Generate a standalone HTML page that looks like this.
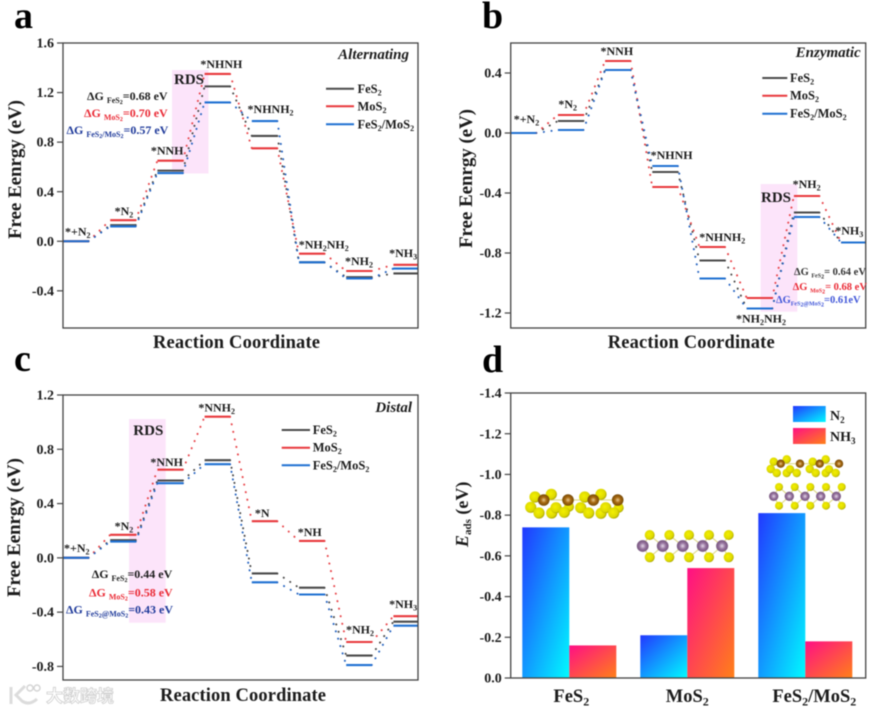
<!DOCTYPE html>
<html lang="en">
<head>
<meta charset="utf-8">
<title>Free energy diagrams and adsorption energies</title>
<style>
html,body{margin:0;padding:0;background:#fff;width:875px;height:711px;overflow:hidden}
svg{display:block;filter:blur(0.4px)}
text{font-family:"Liberation Serif","Noto Serif CJK SC",serif;font-weight:bold;fill:#1c1c1c}
.letter{font-size:38px;fill:#000}
.xt{font-size:18.5px}
.yt{font-size:19px}
.tit{font-size:15px;font-style:italic;text-anchor:end}
.leg{font-size:12.5px}
.rds{font-size:15px;text-anchor:middle}
.d1{font-size:12px}
.d2{font-size:10.5px}
.red{fill:#ea2a35}
.navy{fill:#1f3a9a}
.blue2{fill:#3f55d8}
.gray2{fill:#333}
.s{font-size:8px}
.ss{font-size:6px}
.pink{fill:#fce4fa}
.spine{fill:none;stroke:#444;stroke-width:1.3}
.ll{stroke-width:2}
.fe{stroke:#4a4a4a}
.mo{stroke:#e8383c}
.he{stroke:#1f70d2}
.atom-s{fill:url(#grad-s)}
.atom-fe{fill:url(#grad-fe)}
.atom-mo{fill:url(#grad-mo)}
.bond{stroke:#e0dc90;stroke-width:1.2}
.wm{font-family:"Noto Sans CJK SC","WenQuanYi Zen Hei",sans-serif;font-size:17px;font-weight:bold;fill:#fff;stroke:#cfcfcf;stroke-width:.8}
</style>
</head>
<body>
<svg id="figure" xmlns="http://www.w3.org/2000/svg" width="875" height="711" viewBox="0 0 875 711">
<defs>
<linearGradient id="grad-n2" x1="0" y1="0" x2="1" y2="1"><stop offset="0" stop-color="#2238ff"/><stop offset="1" stop-color="#00fbff"/></linearGradient>
<linearGradient id="grad-nh3" x1="0" y1="0" x2="1" y2="1"><stop offset="0" stop-color="#ff0f85"/><stop offset="1" stop-color="#ff8018"/></linearGradient>
<radialGradient id="grad-s" cx=".42" cy=".42" r=".62"><stop offset="0" stop-color="#f4f000"/><stop offset=".72" stop-color="#dcd800"/><stop offset="1" stop-color="#a09a00"/></radialGradient>
<radialGradient id="grad-fe" cx=".5" cy=".5" r=".55"><stop offset="0" stop-color="#e8c890"/><stop offset=".45" stop-color="#a8690f"/><stop offset="1" stop-color="#6c4408"/></radialGradient>
<radialGradient id="grad-mo" cx=".5" cy=".5" r=".55"><stop offset="0" stop-color="#e4d8e8"/><stop offset=".5" stop-color="#94709c"/><stop offset="1" stop-color="#6f5076"/></radialGradient>
</defs>

<!-- Panel letters -->
<text class="letter" x="14" y="28">a</text>
<text class="letter" x="482" y="28">b</text>
<text class="letter" x="14" y="371">c</text>
<text class="letter" x="482" y="372">d</text>

<!-- Panel a -->
<g>
<rect class="pink" x="172" y="70" width="36.5" height="103.5"/>
<g id="marks-a"></g>
<rect class="spine" x="63" y="43" width="355" height="285"/>
<g id="axis-a"></g>
<g id="labels-a"></g>
<text class="rds" x="189" y="84">RDS</text>
<text class="tit" x="409" y="59">Alternating</text>
<text class="d1" x="87" y="100">ΔG <tspan class="s" dy="3">FeS</tspan><tspan class="ss" dy="1">2</tspan><tspan dy="-4">=0.68 eV</tspan></text>
<text class="d1 red" x="84" y="117">ΔG <tspan class="s red" dy="3">MoS</tspan><tspan class="ss red" dy="1">2</tspan><tspan class="red" dy="-4">=0.70 eV</tspan></text>
<text class="d1 navy" x="66.5" y="134">ΔG <tspan class="s navy" dy="3">FeS</tspan><tspan class="ss navy" dy="1">2</tspan><tspan class="s navy" dy="-1">/MoS</tspan><tspan class="ss navy" dy="1">2</tspan><tspan class="navy" dy="-4">=0.57 eV</tspan></text>
<g>
<line class="ll fe" x1="326" x2="354" y1="88.7" y2="88.7"/>
<line class="ll mo" x1="326" x2="354" y1="106.3" y2="106.3"/>
<line class="ll he" x1="326" x2="354" y1="124.3" y2="124.3"/>
<text class="leg" x="357.5" y="93">FeS<tspan class="s" dy="2.5">2</tspan></text>
<text class="leg" x="357.5" y="110.3">MoS<tspan class="s" dy="2.5">2</tspan></text>
<text class="leg" x="357.5" y="128.3">FeS<tspan class="s" dy="2.5">2</tspan><tspan dy="-2.5">/MoS</tspan><tspan class="s" dy="2.5">2</tspan></text>
</g>
<text class="xt" x="153" y="348" textLength="167">Reaction Coordinate</text>
<text class="yt" transform="translate(21,239) rotate(-90)" textLength="139">Free Eenrgy (eV)</text>
</g>

<!-- Panel b -->
<g>
<rect class="pink" x="760.7" y="184" width="36.6" height="127.7"/>
<g id="marks-b"></g>
<rect class="spine" x="510.7" y="43" width="355" height="285"/>
<g id="axis-b"></g>
<g id="labels-b"></g>
<text class="rds" x="776" y="202">RDS</text>
<text class="tit" x="860.7" y="57">Enzymatic</text>
<text class="d2 gray2" x="794" y="275">ΔG <tspan class="ss gray2" dy="2.5">FeS</tspan><tspan class="ss gray2" dy="1">2</tspan><tspan class="gray2" dy="-3.5">= 0.64 eV</tspan></text>
<text class="d2 red" x="792.7" y="290">ΔG <tspan class="ss red" dy="2.5">MoS</tspan><tspan class="ss red" dy="1">2</tspan><tspan class="red" dy="-3.5">= 0.68 eV</tspan></text>
<text class="d2 blue2" x="776" y="303">ΔG<tspan class="ss blue2" dy="2.5">FeS</tspan><tspan class="ss blue2" dy="1">2</tspan><tspan class="ss blue2" dy="-1">@MoS</tspan><tspan class="ss blue2" dy="1">2</tspan><tspan class="blue2" dy="-3.5">=0.61eV</tspan></text>
<g>
<line class="ll fe" x1="762.3" x2="787.3" y1="78" y2="78"/>
<line class="ll mo" x1="762.3" x2="787.3" y1="95.7" y2="95.7"/>
<line class="ll he" x1="762.3" x2="787.3" y1="113.7" y2="113.7"/>
<text class="leg" x="790" y="82">FeS<tspan class="s" dy="2.5">2</tspan></text>
<text class="leg" x="790" y="99.7">MoS<tspan class="s" dy="2.5">2</tspan></text>
<text class="leg" x="790" y="117.7">FeS<tspan class="s" dy="2.5">2</tspan><tspan dy="-2.5">/MoS</tspan><tspan class="s" dy="2.5">2</tspan></text>
</g>
<text class="xt" x="607.7" y="348" textLength="167">Reaction Coordinate</text>
<text class="yt" transform="translate(472,248) rotate(-90)" textLength="139">Free Eenrgy (eV)</text>
</g>

<!-- Panel c -->
<g>
<rect class="pink" x="129" y="419" width="36.7" height="203.7"/>
<g id="marks-c"></g>
<rect class="spine" x="63" y="395" width="355" height="285"/>
<g id="axis-c"></g>
<g id="labels-c"></g>
<text class="rds" x="148.3" y="435">RDS</text>
<text class="tit" x="412" y="412">Distal</text>
<text class="d1" x="91.7" y="578">ΔG <tspan class="s" dy="3">FeS</tspan><tspan class="ss" dy="1">2</tspan><tspan dy="-4">=0.44 eV</tspan></text>
<text class="d1 red" x="89" y="596.5">ΔG <tspan class="s red" dy="3">MoS</tspan><tspan class="ss red" dy="1">2</tspan><tspan class="red" dy="-4">=0.58 eV</tspan></text>
<text class="d1 navy" x="66" y="613.5">ΔG <tspan class="s navy" dy="3">FeS</tspan><tspan class="ss navy" dy="1">2</tspan><tspan class="s navy" dy="-1">@MoS</tspan><tspan class="ss navy" dy="1">2</tspan><tspan class="navy" dy="-4">=0.43 eV</tspan></text>
<g>
<line class="ll fe" x1="281.7" x2="310" y1="430" y2="430"/>
<line class="ll mo" x1="281.7" x2="310" y1="447.7" y2="447.7"/>
<line class="ll he" x1="281.7" x2="310" y1="465.3" y2="465.3"/>
<text class="leg" x="312.7" y="434">FeS<tspan class="s" dy="2.5">2</tspan></text>
<text class="leg" x="312.7" y="451.7">MoS<tspan class="s" dy="2.5">2</tspan></text>
<text class="leg" x="312.7" y="469.3">FeS<tspan class="s" dy="2.5">2</tspan><tspan dy="-2.5">/MoS</tspan><tspan class="s" dy="2.5">2</tspan></text>
</g>
<text class="xt" x="160" y="701" textLength="166">Reaction Coordinate</text>
<text class="yt" transform="translate(20,597) rotate(-90)" textLength="139">Free Eenrgy (eV)</text>
</g>

<!-- Panel d -->
<g>
<g id="marks-d"></g>
<rect class="spine" x="510.7" y="393" width="355" height="285"/>
<g id="axis-d"></g>
<g id="cats-d"></g>
<text transform="translate(468,547) rotate(-90)" style="font-size:18px"><tspan font-style="italic">E</tspan><tspan style="font-size:11px" dy="3">ads</tspan><tspan dy="-3"> (eV)</tspan></text>
<g>
<rect x="793" y="406" width="32.7" height="16" fill="url(#grad-n2)"/>
<rect x="793" y="428" width="32.7" height="16" fill="url(#grad-nh3)"/>
<text x="830" y="420" style="font-size:14px">N<tspan style="font-size:9px" dy="3">2</tspan></text>
<text x="830" y="441" style="font-size:14px">NH<tspan style="font-size:9px" dy="3">3</tspan></text>
</g>

<g>
<line class="bond" x1="543.7" y1="500" x2="617.7" y2="500"/>
<circle class="atom-s" cx="535" cy="497" r="5.6"/><circle class="atom-s" cx="551.3" cy="494.3" r="5.6"/><circle class="atom-s" cx="584.7" cy="497" r="5.6"/><circle class="atom-s" cx="601" cy="494.3" r="5.6"/>
<circle class="atom-s" cx="618.7" cy="507.7" r="5"/><circle class="atom-s" cx="569" cy="506.7" r="5"/>
<circle class="atom-fe" cx="543.7" cy="500" r="5.8"/><circle class="atom-fe" cx="568" cy="500" r="5.8"/><circle class="atom-fe" cx="593.3" cy="500" r="5.8"/><circle class="atom-fe" cx="617.7" cy="500" r="5.8"/>
<circle class="atom-s" cx="530.7" cy="507.3" r="5.6"/><circle class="atom-s" cx="539" cy="513" r="5.6"/><circle class="atom-s" cx="551.7" cy="513" r="5.6"/><circle class="atom-s" cx="556" cy="507.7" r="5.6"/><circle class="atom-s" cx="564.3" cy="512.3" r="5.6"/>
<circle class="atom-s" cx="580.7" cy="507.7" r="5.6"/><circle class="atom-s" cx="588.7" cy="513" r="5.6"/><circle class="atom-s" cx="601" cy="513.3" r="5.6"/><circle class="atom-s" cx="605.7" cy="507.7" r="5.6"/><circle class="atom-s" cx="613.7" cy="513" r="5.6"/>
</g>

<g>
<path class="bond" fill="none" d="M642.7 546L649.7 535L662.7 546L669.3 535L682.7 546L689 535L702.7 546L709 535L722 546L728.7 535M642.7 546L649.7 557.3L662.7 546L669.3 557.3L682.7 546L689 557.3L702.7 546L709 557.3L722 546L728.7 557.3"/>
<circle class="atom-s" cx="649.7" cy="535" r="5"/><circle class="atom-s" cx="669.3" cy="535" r="5"/><circle class="atom-s" cx="689" cy="535" r="5"/><circle class="atom-s" cx="709" cy="535" r="5"/><circle class="atom-s" cx="728.7" cy="535" r="5"/>
<circle class="atom-mo" cx="642.7" cy="546" r="5.9"/><circle class="atom-mo" cx="662.7" cy="546" r="5.9"/><circle class="atom-mo" cx="682.7" cy="546" r="5.9"/><circle class="atom-mo" cx="702.7" cy="546" r="5.9"/><circle class="atom-mo" cx="722" cy="546" r="5.9"/>
<circle class="atom-s" cx="649.7" cy="557.3" r="5"/><circle class="atom-s" cx="669.3" cy="557.3" r="5"/><circle class="atom-s" cx="689" cy="557.3" r="5"/><circle class="atom-s" cx="709" cy="557.3" r="5"/><circle class="atom-s" cx="728.7" cy="557.3" r="5"/>
</g>

<g>
<line class="bond" x1="780.7" y1="463.7" x2="839" y2="463.7"/>
<circle class="atom-s" cx="773.7" cy="461.7" r="4.2"/><circle class="atom-s" cx="786.7" cy="459.3" r="4.2"/><circle class="atom-s" cx="812.7" cy="461.7" r="4.2"/><circle class="atom-s" cx="825.7" cy="459.3" r="4.2"/>
<circle class="atom-fe" cx="780.7" cy="463.7" r="4.2"/><circle class="atom-fe" cx="800" cy="463.7" r="4.2"/><circle class="atom-fe" cx="819.7" cy="463.7" r="4.2"/><circle class="atom-fe" cx="839" cy="463.7" r="4.2"/>
<circle class="atom-s" cx="770.7" cy="469" r="4.2"/><circle class="atom-s" cx="776.7" cy="473" r="4.2"/><circle class="atom-s" cx="786.7" cy="473" r="4.2"/><circle class="atom-s" cx="790" cy="469.3" r="4.2"/><circle class="atom-s" cx="796.7" cy="473" r="4.2"/>
<circle class="atom-s" cx="809.7" cy="469" r="4.2"/><circle class="atom-s" cx="815.7" cy="473" r="4.2"/><circle class="atom-s" cx="825.7" cy="473" r="4.2"/><circle class="atom-s" cx="829" cy="469.3" r="4.2"/><circle class="atom-s" cx="835.7" cy="473" r="4.2"/>
<path class="bond" fill="none" d="M773.7 496.3L779 487L789.3 496.3L794.7 487L805 496.3L810.3 487L820.7 496.3L826 487L836.3 496.3L841.7 487M773.7 496.3L779 505.7L789.3 496.3L794.7 505.7L805 496.3L810.3 505.7L820.7 496.3L826 505.7L836.3 496.3L841.7 505.7"/>
<circle class="atom-s" cx="779" cy="487" r="4"/><circle class="atom-s" cx="794.7" cy="487" r="4"/><circle class="atom-s" cx="810.3" cy="487" r="4"/><circle class="atom-s" cx="826" cy="487" r="4"/><circle class="atom-s" cx="841.7" cy="487" r="4"/>
<circle class="atom-mo" cx="773.7" cy="496.3" r="4.7"/><circle class="atom-mo" cx="789.3" cy="496.3" r="4.7"/><circle class="atom-mo" cx="805" cy="496.3" r="4.7"/><circle class="atom-mo" cx="820.7" cy="496.3" r="4.7"/><circle class="atom-mo" cx="836.3" cy="496.3" r="4.7"/>
<circle class="atom-s" cx="779" cy="505.7" r="4"/><circle class="atom-s" cx="794.7" cy="505.7" r="4"/><circle class="atom-s" cx="810.3" cy="505.7" r="4"/><circle class="atom-s" cx="826" cy="505.7" r="4"/><circle class="atom-s" cx="841.7" cy="505.7" r="4"/>
</g>
</g>

<!-- Watermark -->
<g>
<path d="M11 687V704M25 686L16 695L22 701Q29 706 37 699" fill="none" stroke="#dcdcdc" stroke-width="3"/>
<circle cx="30" cy="688" r="3" fill="none" stroke="#d4d4d4" stroke-width="1.4"/><circle cx="37" cy="688" r="3" fill="none" stroke="#d4d4d4" stroke-width="1.4"/>
<text class="wm" x="46" y="702" textLength="68">大数跨境</text>
</g>
</svg>

<script>
// Panel a: Alternating pathway
const stepsA = ['*+N_2', '*N_2', '*NNH', '*NHNH', '*NHNH_2', '*NH_2NH_2', '*NH_2', '*NH_3'];
const fes2A = [0, 0.13, 0.57, 1.25, 0.85, -0.17, -0.29, -0.26];
const mos2A = [0, 0.17, 0.65, 1.35, 0.75, -0.10, -0.24, -0.19];
const heteroA = [0, 0.12, 0.55, 1.12, 0.97, -0.17, -0.30, -0.22];
const ticksA = [1.6, 1.2, 0.8, 0.4, 0.0, -0.4];

// Panel b: Enzymatic pathway
const stepsB = ['*+N_2', '*N_2', '*NNH', '*NHNH', '*NHNH_2', '*NH_2NH_2', '*NH_2', '*NH_3'];
const fes2B = [0, 0.08, 0.42, -0.26, -0.85, -1.17, -0.53, -0.73];
const mos2B = [0, 0.12, 0.48, -0.36, -0.76, -1.10, -0.42, -0.73];
const heteroB = [0, 0.02, 0.42, -0.22, -0.97, -1.17, -0.56, -0.73];
const ticksB = [0.4, 0.0, -0.4, -0.8, -1.2];

// Panel c: Distal pathway
const stepsC = ['*+N_2', '*N_2', '*NNH', '*NNH_2', '*N', '*NH', '*NH_2', '*NH_3'];
const fes2C = [0, 0.13, 0.57, 0.72, -0.115, -0.22, -0.72, -0.47];
const mos2C = [0, 0.17, 0.65, 1.04, 0.27, 0.125, -0.62, -0.43];
const heteroC = [0, 0.12, 0.55, 0.69, -0.18, -0.27, -0.79, -0.50];
const ticksC = [1.2, 0.8, 0.4, 0.0, -0.4, -0.8];

// Panel d: adsorption energies
const catalysts = ['FeS_2', 'MoS_2', 'FeS_2/MoS_2'];
const n2Ads = [-0.74, -0.21, -0.81];
const nh3Ads = [-0.16, -0.54, -0.18];
const ticksD = [-1.4, -1.2, -1.0, -0.8, -0.6, -0.4, -0.2, 0.0];

const NS = 'http://www.w3.org/2000/svg';

function linearScale(d0, d1, r0, r1) {
  return function (v) { return r0 + (v - d0) * (r1 - r0) / (d1 - d0); };
}

function mk(tag, parent, attrs) {
  const node = document.createElementNS(NS, tag);
  Object.keys(attrs).forEach(function (k) { node.setAttribute(k, attrs[k]); });
  parent.appendChild(node);
  return node;
}

function rich(node, str, subSize, drop) {
  const parts = str.split(/_(\d)/);
  let pending = 0;
  parts.forEach(function (part, i) {
    if (!part) return;
    const t = document.createElementNS(NS, 'tspan');
    t.textContent = part;
    if (i % 2 === 1) {
      t.setAttribute('dy', drop);
      t.style.fontSize = subSize + 'px';
      pending = -drop;
    } else if (pending) {
      t.setAttribute('dy', pending);
      pending = 0;
    }
    node.appendChild(t);
  });
}

function drawYAxis(id, ticks, yScale, plotLeft) {
  const g = document.getElementById(id);
  ticks.forEach(function (v) {
    const tick = mk('line', g, { x1: plotLeft - 6, x2: plotLeft, y1: yScale(v), y2: yScale(v), stroke: '#444', 'stroke-width': 1.2 });
    
    
    const label = mk('text', g, { x: plotLeft - 9, y: yScale(v) + 4.6, 'text-anchor': 'end' });
    label.style.fontSize = '14px';
    label.textContent = v.toFixed(1);
    
    
  });
}

function drawEnergyPanel(key, steps, seriesList, ticks, top, bottom, plotLeft, plotTop, plotBottom) {
  const y = linearScale(top, bottom, plotTop, plotBottom);
  const stepWidth = 47.2;
  const levelWidth = 25.5;
  const plotRight = plotLeft + 355;
  const xStart = function (i) { return plotLeft + i * stepWidth; };
  const xEnd = function (i) { return Math.min(plotRight, xStart(i) + levelWidth); };
  const marks = document.getElementById('marks-' + key);

  seriesList.forEach(function (series) {
    series.values.forEach(function (v, i) {
      if (i < series.values.length - 1) {
        const dots = mk('line', marks, {
          x1: xEnd(i), y1: y(v), x2: xStart(i + 1), y2: y(series.values[i + 1]),
          stroke: series.dot, 'stroke-width': 2, 'stroke-linecap': 'round', 'stroke-dasharray': '0.1 7.6'
        });
        
        
      }
    });
  });
  seriesList.forEach(function (series) {
    series.values.forEach(function (v, i) {
      const level = mk('line', marks, { x1: xStart(i), x2: xEnd(i), y1: y(v), y2: y(v), stroke: series.color, 'stroke-width': 2.1 });
      
      
    });
  });

  drawYAxis('axis-' + key, ticks, y, plotLeft);

  const labelGroup = document.getElementById('labels-' + key);
  return {
    label: function (i, dx, dy) {
      const tops = seriesList.map(function (s) { return y(s.values[i]); });
      const node = mk('text', labelGroup, {
        x: xStart(i) + levelWidth / 2 + dx,
        y: Math.min.apply(null, tops) + dy,
        'text-anchor': 'middle'
      });
      node.style.fontSize = '12px';
      rich(node, steps[i], 8, 2.5);
      
      
    }
  };
}

function seriesFor(fes2, mos2, hetero) {
  return [
    { name: 'fes2', values: fes2, color: '#4a4a4a', dot: '#4a4a4a' },
    { name: 'mos2', values: mos2, color: '#e8383c', dot: '#e8454a' },
    { name: 'hetero', values: hetero, color: '#1f70d2', dot: '#2563c0' }
  ];
}

const panelA = drawEnergyPanel('a', stepsA, seriesFor(fes2A, mos2A, heteroA), ticksA, 1.6, -0.7, 63, 43, 328);
panelA.label(0, 2, -6);
panelA.label(1, 1, -5);
panelA.label(2, -3, -6);
panelA.label(3, 4, -6);
panelA.label(4, 6, -8);
panelA.label(5, 12, -5);
panelA.label(6, 0, -6);
panelA.label(7, -3, -8);

const panelB = drawEnergyPanel('b', stepsB, seriesFor(fes2B, mos2B, heteroB), ticksB, 0.6, -1.3, 510.7, 43, 328);
panelB.label(0, 3, -10);
panelB.label(1, -3, -7);
panelB.label(2, -1, -6);
panelB.label(3, 6.6, -7);
panelB.label(4, 10, -6);
panelB.label(5, 1.5, 24.7);
panelB.label(6, 0, -8);
panelB.label(7, -4.6, -8);

const panelC = drawEnergyPanel('c', stepsC, seriesFor(fes2C, mos2C, heteroC), ticksC, 1.2, -0.9, 63, 395, 680);
panelC.label(0, 1, -6);
panelC.label(1, 1, -5);
panelC.label(2, -3.5, -3.6);
panelC.label(3, -0.7, -5);
panelC.label(4, -2.3, -4.3);
panelC.label(5, -2, -4.7);
panelC.label(6, 1, -8.5);
panelC.label(7, -3, -8);

(function drawBars() {
  const y = linearScale(-1.4, 0, 393, 678);
  const plotLeft = 510.7;
  const groupStep = 118;
  const firstGroup = 11.6;
  const barWidth = 47;
  const x = function (i) { return plotLeft + firstGroup + i * groupStep; };
  const marks = document.getElementById('marks-d');
  catalysts.forEach(function (cat, i) {
    const n2Bar = mk('rect', marks, { x: x(i), y: y(n2Ads[i]), width: barWidth, height: y(0) - y(n2Ads[i]), fill: 'url(#grad-n2)' });
    
    
    const nh3Bar = mk('rect', marks, { x: x(i) + barWidth, y: y(nh3Ads[i]), width: barWidth, height: y(0) - y(nh3Ads[i]), fill: 'url(#grad-nh3)' });
    
    
    const nudge = i === 0 ? 2 : (i === 2 ? 9 : 0);
    const label = mk('text', document.getElementById('cats-d'), { x: x(i) + barWidth + nudge, y: 702, 'text-anchor': 'middle' });
    label.style.fontSize = '18.5px';
    rich(label, cat, 12, 3.5);
    
    
  });
  drawYAxis('axis-d', ticksD, y, plotLeft);
})();
</script>
</body>
</html>
